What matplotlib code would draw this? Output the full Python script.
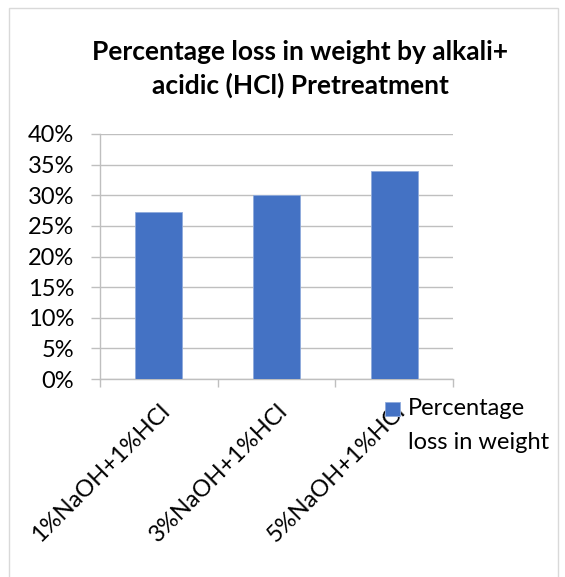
import numpy as np
import matplotlib.pyplot as plt
from matplotlib.container import BarContainer
from matplotlib.patches import Rectangle
from matplotlib.legend_handler import HandlerPatch, update_from_first_child
from matplotlib.ticker import FixedLocator, PercentFormatter

plt.rcParams['font.family'] = ['Lato', 'DejaVu Sans']

treatments = ['1%NaOH+1%HCl', '3%NaOH+1%HCl', '5%NaOH+1%HCl']
weight_loss = [0.273, 0.300, 0.340]  # fraction of initial weight
series_name = 'Percentage\nloss in weight'
title = 'Percentage loss in weight by alkali+\nacidic (HCl) Pretreatment'

bar_color = '#4472C4'
line_color = '#bfbfbf'
text_size = 17
legend_spacing = 1.75


def top_square(legend, orig_handle, xdescent, ydescent, width, height, fontsize):
    # square key next to the first line of a two-line label
    side = 0.62 * fontsize
    return Rectangle((-xdescent, -ydescent + 0.75 * fontsize), side, side)


fig = plt.figure(figsize=(5.65, 5.77), dpi=100)

# chart area frame
fig.patches.append(Rectangle((9 / 565, -0.05), (558 - 9) / 565, 1.05 - 8 / 577,
                             transform=fig.transFigure, fill=False,
                             edgecolor='#d9d9d9', linewidth=1))

ax = fig.add_axes([100 / 565, 198 / 577, 353 / 565, 245 / 577])
x = np.arange(len(treatments))
ax.bar(x, weight_loss, width=0.4, color=bar_color, label=series_name, zorder=3,
       edgecolor='#8faadc', linewidth=0.6)

ax.set_xlim(-0.5, len(treatments) - 0.5)
ax.set_ylim(0, 0.40)
ax.set_yticks(np.arange(0, 0.401, 0.05))
ax.yaxis.set_major_formatter(PercentFormatter(1.0, decimals=0))
ax.grid(axis='y', color=line_color, linewidth=1, zorder=0)

# category boundaries get the tick marks, labels sit at the centres
ax.xaxis.set_major_locator(FixedLocator(np.arange(-0.5, len(treatments), 1.0)))
ax.xaxis.set_major_formatter(plt.NullFormatter())
ax.xaxis.set_minor_locator(FixedLocator(x))
ax.set_xticklabels(treatments, minor=True, rotation=45, ha='right', va='top',
                   rotation_mode='anchor', fontsize=text_size)
ax.tick_params(axis='x', which='major', length=6, color=line_color, width=1)
ax.tick_params(axis='x', which='minor', length=0, pad=15)
ax.tick_params(axis='y', length=6.5, color=line_color, width=1,
               labelsize=text_size, pad=12)

for side in ['top', 'right']:
    ax.spines[side].set_visible(False)
for side in ['left', 'bottom']:
    ax.spines[side].set_color(line_color)
    ax.spines[side].set_linewidth(1)

fig.text(300 / 565, 1 - 69 / 577, title, ha='center', va='center',
         multialignment='center', fontsize=19, fontweight='bold',
         linespacing=1.38)

key_handler = HandlerPatch(patch_func=top_square, update_func=update_from_first_child)
leg = fig.legend(loc='upper left', bbox_to_anchor=(385 / 565, 1 - 398 / 577),
                 frameon=False, fontsize=text_size, handlelength=0.62,
                 handleheight=0.7, handletextpad=0.35, borderpad=0,
                 borderaxespad=0, handler_map={BarContainer: key_handler})
for t in leg.get_texts():
    t.set_linespacing(legend_spacing)

fig.savefig('out.png', dpi=100)
